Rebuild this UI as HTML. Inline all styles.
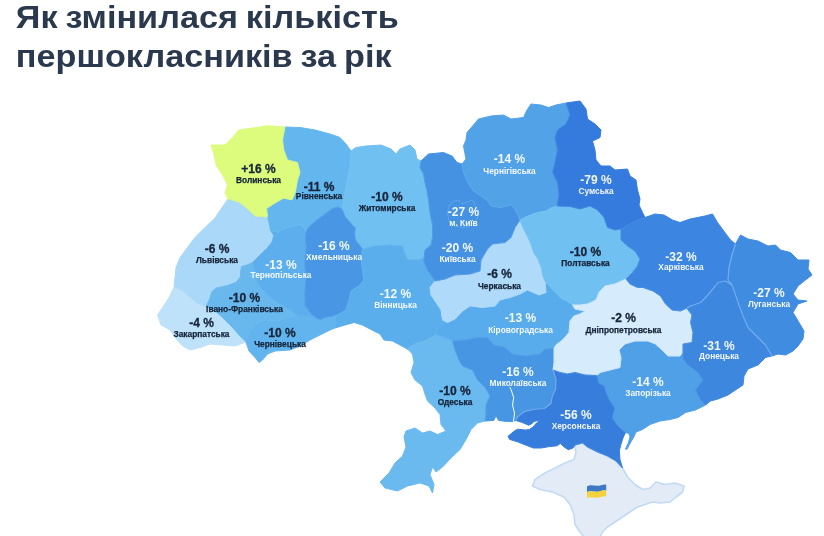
<!DOCTYPE html>
<html lang="uk"><head><meta charset="utf-8"><title>Як змінилася кількість першокласників за рік</title>
<style>
html,body{margin:0;padding:0;background:#fff;}
body{width:824px;height:536px;overflow:hidden;position:relative;font-family:"Liberation Sans",sans-serif;}
svg{position:absolute;left:0;top:0;overflow:visible;filter:blur(0.65px);}
.pct{font-weight:700;font-size:12px;stroke-width:0.3px;}
.nm{font-weight:700;font-size:8.35px;stroke-width:0.25px;}
.ttl{font-weight:700;font-size:32px;fill:#2b394f;word-spacing:-1.5px;}
.d{fill:#17253a;stroke:#17253a}
.w{fill:#fff;stroke:none;fill-opacity:0.93}
</style></head><body>
<svg width="824" height="536" viewBox="0 0 824 536" font-family="Liberation Sans, sans-serif" text-anchor="middle">
<g stroke-linejoin="round" stroke-width="1">
<polygon id="crimea" fill="#E3ECF6" stroke="#C1DAF4" stroke-width="1.6" points="622.5,468 627.5,477 635,484.5 642.5,489.5 650,488 656,482 665,484.5 675,483 684,486 682.5,492 676,497 670,502 660,503 652.5,502 645,504.5 637.5,507 630,512 622.5,517 615,522 607.5,527 602.5,532 598,541 587,541 580,532 575,524.5 574,514.5 570,504.5 564,497 552.5,492 540,489.5 532.5,486 535,479.5 545,473 555,468 565,463 574,459.5 576,453 575,445 582.5,443 587.5,447 597.5,452 607.5,456 616,461"/>
<polygon id="lviv" fill="#AAD8F8" stroke="#AAD8F8" points="174,287.5 175,277.5 176,267.5 180,257.5 187.5,247.5 195,237.5 205,227.5 215,218 221,209 228,199 232,200 240,202.5 248.8,210 255,216 267.5,217 269.8,226 270.5,230.5 273.8,235.5 272.2,241.8 267.4,248 261,254 256,259 252.5,262.5 247,265 241.5,266.5 240.5,272 240.4,277 236,282.3 227.3,285.5 216.4,288 212,291.5 209.8,298.7 206,306.5 197.5,304 190,297.5 182.5,291"/>
<polygon id="zak" fill="#BEE2FA" stroke="#BEE2FA" points="246,342 235,346 222.5,345 210,344 200,347.5 190,350 182.5,346 175,337.5 170,330 161,325 157.5,315 162.5,307.5 169,297.5 174,287.5 182.5,291 190,297.5 197.5,304 206,306.5 212.5,309 220,315 225,320 232.5,327.5 239,335"/>
<polygon id="if" fill="#68B8EE" stroke="#68B8EE" points="206,306.5 209.8,298.7 212,291.5 216.4,288 227.3,285.5 236,282.3 240.4,277 240.5,272 241.5,266.5 247,265 252.5,262.5 254.6,271.4 256.8,282.3 261,287.8 267.7,295.4 276.4,302 290,309.6 297.5,316 285,319 275,321 262.5,320 255,325 249,332.5 246,342 239,335 232.5,327.5 225,320 220,315 212.5,309"/>
<polygon id="cherniv" fill="#62B4EE" stroke="#62B4EE" points="335,328 330,330 320,335 310,340 300,346 290,350 275,351 267.5,354 262.5,360 259,362.5 255,357.5 249,351 246,342 249,332.5 255,325 262.5,320 275,321 285,319 297.5,316 305,316 312,317.5 317,318.5 321,319.5 325,317.5 335,315.5 336,322"/>
<polygon id="tern" fill="#5CAEEC" stroke="#5CAEEC" points="252.5,262.5 256,259 261,254 267.4,248 272.2,241.8 273.8,235.5 270.5,230.5 278.5,232.3 283.3,229 292.8,226 300.7,224.4 303.9,227.5 306,232 305.5,240 306.3,248 305,259 305,265 306,277.5 305,292.5 305,305 310,312.5 317,318.5 312,317.5 305,316 297.5,316 290,309.6 276.4,302 267.7,295.4 261,287.8 256.8,282.3 254.6,271.4"/>
<polygon id="rivne" fill="#63B6EE" stroke="#63B6EE" points="285,127 300,127.5 315,130 330,134 340,137.5 346,144 351,151 350,167 346,186 344,200 342,209 338,207 332.4,208.5 326,213.3 319.7,218 313.4,222.8 308.6,227.5 306,232 303.9,227.5 300.7,224.4 292.8,226 283.3,229 278.5,232.3 270.5,230.5 269.8,226 267.5,217 266.6,208.5 273.8,203.8 283.3,198.2 292,199.8 295.2,192.7 297.5,180 300,172.5 297.5,162.5 287.5,160 283.8,150 282.5,140"/>
<polygon id="volyn" fill="#DDFB7C" stroke="#DDFB7C" points="228,199 225,192.5 227.5,185 222.5,175 216,165 213.8,153.8 211,145 225,145 232.5,137.5 238.8,130 253,128 267.5,125.8 285,127 282.5,140 283.8,150 287.5,160 297.5,162.5 300,172.5 297.5,180 295.2,192.7 292,199.8 283.3,198.2 273.8,203.8 266.6,208.5 267.5,217 255,216 248.8,210 240,202.5 232,200"/>
<polygon id="zhyt" fill="#71C0F2" stroke="#71C0F2" points="351,151 356,147.5 366,146 381,145 391,149 396,154 400,149 410,145 415,150 417,159 421,161 420,167.5 423.5,174 425,182.5 427,191 428.5,200 430,212.5 432.5,225 432.5,237.5 431,245 425,250 424,258 417.5,260 407.5,260 405,254 402.5,246 390,245 375,246 362.5,249 359.4,245 355.4,240 354.6,234 355.4,227.5 353,226 349,221 345,216.5 342,209 344,200 346,186 350,167"/>
<polygon id="khm" fill="#4896E4" stroke="#4896E4" points="306,232 308.6,227.5 313.4,222.8 319.7,218 326,213.3 332.4,208.5 338,207 342,209 345,216.5 349,221 353,226 355.4,227.5 354.6,234 355.4,240 359.4,245 362.5,249 361,260 362.5,270 364,280 359,286 351,291 349,300 346,310 337.5,315 335,315.5 325,317.5 321,319.5 317,318.5 310,312.5 305,305 305,292.5 306,277.5 305,265 305,259 306.3,248 305.5,240"/>
<polygon id="vinn" fill="#5AAEEC" stroke="#5AAEEC" points="407.5,349 400,345 392.5,341 384,340 380,334 370,329 362.5,325 354,322.5 345,325 335,328 336,322 335,315.5 337.5,315 346,310 349,300 351,291 359,286 364,280 362.5,270 361,260 362.5,249 375,246 390,245 402.5,246 405,254 407.5,260 417.5,260 424,258 424,262 427.5,270 431,275 435,281 430,287.5 431,295 436,302.5 441,310 442.5,320 447.5,322.5 440,325 437.5,329 436,334.5 432.5,337.5 425,341 415,344"/>
<polygon id="odesa" fill="#6ABAEF" stroke="#6ABAEF" points="485,421 477.5,423 471,429.5 466,439.5 460,449.5 451,458 442.5,467 436,472 432.5,467 430,474.5 434,484.5 432.5,493 429,486 420,483 407.5,486 397.5,491 385,488 380,482 382.5,479.5 389,473 395,463 402.5,456 406,447 404,437 406,431 415,428 422.5,433 430,431 437.5,434.5 446,431 441,424.5 440,414.5 435,408 427.5,401 425,394 422.5,386 415,380 411,372.5 414,362.5 412.5,354 407.5,349 415,344 425,341 432.5,337.5 436,334.5 445,337.5 452.5,341 455,350 459,360 462.5,366 472.5,370 477.5,380 485,387.5 490,396 486,405 486,414"/>
<polygon id="kir" fill="#58ACEC" stroke="#58ACEC" points="447.5,322.5 455,319 462.5,311 470,306 482.5,307.5 495,306 500,300 510,297.5 520,294 527.5,290 539,295 546,292.5 545,281 553.5,290.5 562.3,299 567,301 572.5,305 575,309 585,311 580,314 574,316 570,321 569,332.5 562.5,340 556,345 554,348 545,349 540,354 525,356 512.5,354 505,347.5 494,345 487.5,337.5 477.5,337.5 465,340 452.5,341 445,337.5 436,334.5 437.5,329 440,325"/>
<polygon id="cherk" fill="#B0DAF9" stroke="#B0DAF9" points="435,281 445,279 455,275 470,274 480,271 481,260 487.5,249 492.5,244 505,242.5 511,237.5 515,227.5 520,220 523,227.5 527.3,236 530.5,243 534,253 538,259 541.5,268 542.6,275 545,281 546,292.5 539,295 527.5,290 520,294 510,297.5 500,300 495,306 482.5,307.5 470,306 462.5,311 455,319 447.5,322.5 442.5,320 441,310 436,302.5 431,295 430,287.5"/>
<polygon id="kyiv" fill="#4592E2" stroke="#4592E2" points="421,161 428.5,154 443.5,152.5 452,156 457,162.5 462,164 463.5,172.5 468.5,184 473.5,191 481,196 487,200 491,206 501,207.5 512,205 516,211 520,220 515,227.5 511,237.5 505,242.5 492.5,244 487.5,249 481,260 480,271 470,274 455,275 445,279 435,281 431,275 427.5,270 424,262 424,258 425,250 431,245 432.5,237.5 432.5,225 430,212.5 428.5,200 427,191 425,182.5 423.5,174 420,167.5"/>
<polygon id="chern" fill="#52A2E8" stroke="#52A2E8" points="462,164 466,159 463.5,146 466,140 467,132.5 473.5,125 478.5,119 491,116 503.5,115 511,119 523.5,117.5 527,110 531,104 541,105 548.5,107.5 556,105 566,103 570,115 566,124 557.5,130 555,137.5 557.5,150 555,162.5 552.5,172.5 557.5,182.5 559,195 557,206 551,208 546,211 536,213 528,216 520,220 516,211 512,205 501,207.5 491,206 487,200 481,196 473.5,191 468.5,184 463.5,172.5"/>
<polygon id="polt" fill="#70C0F2" stroke="#70C0F2" points="520,220 528,216 536,213 546,211 551,208 557,206 570,206.5 580,209 590,206 597.5,210 604,217.5 607.5,227.5 615,230 621,229 621,240 627.5,246 635,251 640,259 637.5,266 632.5,272.5 626,279 615,284 605,286 599,292.5 596,300 587.5,304 580,305 572.5,305 567,301 562.3,299 553.5,290.5 545,281 542.6,275 541.5,268 538,259 534,253 530.5,243 527.3,236 523,227.5"/>
<polygon id="myk" fill="#4696E4" stroke="#4696E4" points="516,420.5 512.8,421.5 505,421.3 498.5,420.4 496,415.7 493.8,420.4 485,421 486,414 486,405 490,396 485,387.5 477.5,380 472.5,370 462.5,366 459,360 455,350 452.5,341 465,340 477.5,337.5 487.5,337.5 494,345 505,347.5 512.5,354 525,356 540,354 545,349 554,348 554,352.5 554,362.5 553,370 556,380 555.6,389.5 552.4,395.8 550.8,403.8 544.5,408.5 533.4,409.3 524,411.7 517.5,417"/>
<polygon id="zap" fill="#50A0E8" stroke="#50A0E8" points="705.5,405 695.5,410 685.5,412.5 678,417.5 670,419.5 660,421 650,424.5 642.5,429.5 636,432 633.8,437 630.3,443 626.8,449.5 625.5,449 628.3,443 630,437 629,433.5 625.5,432.5 621.5,429.5 617.3,425.3 612.2,418 614.4,408 608.6,399 605.7,392 604.2,386 598.4,383 597,375.5 600,372.5 610,370 620,367.5 621,357.5 619,350 625,344 635,341 648,341 655.5,344 662,350 668,356 680,356 683,352 683,359 688,365 698,372.5 703,380 695.5,390 700.5,400"/>
<polygon id="dnipro" fill="#D6EBFC" stroke="#D6EBFC" points="572.5,305 580,305 587.5,304 596,300 599,292.5 605,286 615,284 626,279 630,284 637.5,287.5 643,287.5 653,291 660.5,296 665.5,304 672,310 680.5,311 687,308 688,310 692,315 690.5,322.5 693,332.5 692,342.5 683,344 683,352 680,356 668,356 662,350 655.5,344 648,341 635,341 625,344 619,350 621,357.5 620,367.5 610,370 600,372.5 597,375.5 585,375 575,372.5 567.5,374 560,372.5 553,370 554,362.5 554,352.5 554,348 556,345 562.5,340 569,332.5 570,321 574,316 580,314 585,311 575,309"/>
<polygon id="khark" fill="#3C85E0" stroke="#3C85E0" points="645,217.5 655,214 664,215 672.5,220 680,222.5 690,219 705,216 712.5,214 717.5,222.5 723,230 730.5,240 735.5,244 732,255 729,267.5 728,280 732,285 725.5,281 718,282.5 712,290 707,296 700.5,302.5 690.5,306 687,308 680.5,311 672,310 665.5,304 660.5,296 653,291 643,287.5 637.5,287.5 630,284 626,279 632.5,272.5 637.5,266 640,259 635,251 627.5,246 621,240 621,229 628,225 635,221"/>
<polygon id="luh" fill="#408CE0" stroke="#408CE0" points="735.5,244 740.5,235 748,239 758,241 768,246 775.5,245 780.5,250 790.5,252.5 798,260 809,260 808,269 812,275 805.5,280 798,286 793,294 798,300 807,301 798,304 793,312.5 799,322.5 804,331 803,339 798,346 793,351 785.5,355 778,354 772,356 765.5,345 758,337.5 748,327.5 743,316 739,305 735.5,295 732,285 728,280 729,267.5 732,255"/>
<polygon id="don" fill="#3E87DE" stroke="#3E87DE" points="772,356 765.5,357.5 758,365 748,369 744,376 743,385 735.5,390 728,395 718,399 710.5,401 705.5,405 700.5,400 695.5,390 703,380 698,372.5 688,365 683,359 683,352 683,344 692,342.5 693,332.5 690.5,322.5 692,315 688,310 687,308 690.5,306 700.5,302.5 707,296 712,290 718,282.5 725.5,281 732,285 735.5,295 739,305 743,316 748,327.5 758,337.5 765.5,345"/>
<polygon id="sumy" fill="#357BDD" stroke="#357BDD" points="566,103 580,101 586,109 587.5,119 595,124 601,130 600,137.5 592.5,141 595,150 596,160 601,166 610,166 615,170 627.5,169 630,176 636,180 637.5,190 640,199 639,205 642.5,212.5 645,217.5 635,221 628,225 621,229 615,230 607.5,227.5 604,217.5 597.5,210 590,206 580,209 570,206.5 557,206 559,195 557.5,182.5 552.5,172.5 555,162.5 557.5,150 555,137.5 557.5,130 566,124 570,115"/>
<polygon id="kher" fill="#377EDC" stroke="#377EDC" points="625.5,432.5 623,438 621,444 619.3,451 620,459.5 622.5,468 616,461 607.5,456 597.5,452 587.5,447 582.5,443 575,445 573,448 568.3,449.7 563.5,446.6 560.3,443.4 557.2,445.8 549.2,446.6 541.3,448 533.4,448 525.5,445 517.5,441.8 509.6,439.4 508,436.3 514.4,431 517.5,429.2 525.5,430 529.4,429.5 533,427 536.5,423 539.7,420 534,421.5 531.5,424 528.6,425.2 522.3,422.5 516,420.5 517.5,417 524,411.7 533.4,409.3 544.5,408.5 550.8,403.8 552.4,395.8 555.6,389.5 556,380 553,370 560,372.5 567.5,374 575,372.5 585,375 597,375.5 598.4,383 604.2,386 605.7,392 608.6,399 614.4,408 612.2,418 617.3,425.3 621.5,429.5"/>
</g>
<g fill="none" stroke="#8FC8F6" stroke-linejoin="round">
<polyline stroke-width="0.8" opacity="0.22" points="285,127 282.5,140 283.8,150 287.5,160 297.5,162.5 300,172.5 297.5,180 295.2,192.7 292,199.8 283.3,198.2 273.8,203.8 266.6,208.5 267.5,217"/>
<polyline stroke-width="0.8" opacity="0.22" points="267.5,217 255,216 248.8,210 240,202.5 232,200 228,199"/>
<polyline stroke-width="0.8" opacity="0.22" points="267.5,217 269.8,226 270.5,230.5"/>
<polyline stroke-width="0.8" opacity="0.22" points="270.5,230.5 273.8,235.5 272.2,241.8 267.4,248 261,254 256,259 252.5,262.5"/>
<polyline stroke-width="0.8" opacity="0.22" points="252.5,262.5 247,265 241.5,266.5 240.5,272 240.4,277 236,282.3 227.3,285.5 216.4,288 212,291.5 209.8,298.7 206,306.5"/>
<polyline stroke-width="0.8" opacity="0.22" points="206,306.5 197.5,304 190,297.5 182.5,291 174,287.5"/>
<polyline stroke-width="0.8" opacity="0.22" points="206,306.5 212.5,309 220,315 225,320 232.5,327.5 239,335 246,342"/>
<polyline stroke-width="0.8" opacity="0.22" points="252.5,262.5 254.6,271.4 256.8,282.3 261,287.8 267.7,295.4 276.4,302 290,309.6 297.5,316"/>
<polyline stroke-width="0.8" opacity="0.22" points="297.5,316 285,319 275,321 262.5,320 255,325 249,332.5 246,342"/>
<polyline stroke-width="0.8" opacity="0.22" points="297.5,316 305,316 312,317.5 317,318.5"/>
<polyline stroke-width="0.8" opacity="0.22" points="317,318.5 321,319.5 325,317.5 335,315.5"/>
<polyline stroke-width="0.8" opacity="0.22" points="335,315.5 336,322 335,328"/>
<polyline stroke-width="0.8" opacity="0.22" points="270.5,230.5 278.5,232.3 283.3,229 292.8,226 300.7,224.4 303.9,227.5 306,232"/>
<polyline stroke-width="0.8" opacity="0.22" points="306,232 305.5,240 306.3,248 305,259 305,265 306,277.5 305,292.5 305,305 310,312.5 317,318.5"/>
<polyline stroke-width="0.8" opacity="0.22" points="306,232 308.6,227.5 313.4,222.8 319.7,218 326,213.3 332.4,208.5 338,207 342,209"/>
<polyline stroke-width="0.8" opacity="0.22" points="351,151 350,167 346,186 344,200 342,209"/>
<polyline stroke-width="0.8" opacity="0.22" points="342,209 345,216.5 349,221 353,226 355.4,227.5 354.6,234 355.4,240 359.4,245 362.5,249"/>
<polyline stroke-width="0.8" opacity="0.22" points="362.5,249 361,260 362.5,270 364,280 359,286 351,291 349,300 346,310 337.5,315 335,315.5"/>
<polyline stroke-width="0.8" opacity="0.22" points="362.5,249 375,246 390,245 402.5,246 405,254 407.5,260 417.5,260 424,258"/>
<polyline stroke-width="0.8" opacity="0.22" points="421,161 420,167.5 423.5,174 425,182.5 427,191 428.5,200 430,212.5 432.5,225 432.5,237.5 431,245 425,250 424,258"/>
<polyline stroke-width="0.8" opacity="0.22" points="424,258 424,262 427.5,270 431,275 435,281"/>
<polyline stroke-width="0.8" opacity="0.22" points="435,281 430,287.5 431,295 436,302.5 441,310 442.5,320 447.5,322.5"/>
<polyline stroke-width="0.8" opacity="0.22" points="447.5,322.5 440,325 437.5,329 436,334.5"/>
<polyline stroke-width="0.8" opacity="0.22" points="436,334.5 432.5,337.5 425,341 415,344 407.5,349"/>
<polyline stroke-width="0.8" opacity="0.22" points="436,334.5 445,337.5 452.5,341"/>
<polyline stroke-width="0.8" opacity="0.22" points="452.5,341 455,350 459,360 462.5,366 472.5,370 477.5,380 485,387.5 490,396 486,405 486,414 485,421"/>
<polyline stroke-width="0.8" opacity="0.22" points="435,281 445,279 455,275 470,274 480,271 481,260 487.5,249 492.5,244 505,242.5 511,237.5 515,227.5 520,220"/>
<polyline stroke-width="0.8" opacity="0.22" points="462,164 463.5,172.5 468.5,184 473.5,191 481,196 487,200 491,206 501,207.5 512,205 516,211 520,220"/>
<polyline stroke-width="0.8" opacity="0.22" points="520,220 528,216 536,213 546,211 551,208 557,206"/>
<polyline stroke-width="0.8" opacity="0.22" points="566,103 570,115 566,124 557.5,130 555,137.5 557.5,150 555,162.5 552.5,172.5 557.5,182.5 559,195 557,206"/>
<polyline stroke-width="0.8" opacity="0.22" points="557,206 570,206.5 580,209 590,206 597.5,210 604,217.5 607.5,227.5 615,230 621,229"/>
<polyline stroke-width="0.8" opacity="0.22" points="621,229 628,225 635,221 645,217.5"/>
<polyline stroke-width="0.8" opacity="0.22" points="621,229 621,240 627.5,246 635,251 640,259 637.5,266 632.5,272.5 626,279"/>
<polyline stroke-width="0.8" opacity="0.22" points="626,279 630,284 637.5,287.5 643,287.5 653,291 660.5,296 665.5,304 672,310 680.5,311 687,308"/>
<polyline stroke-width="0.8" opacity="0.22" points="626,279 615,284 605,286 599,292.5 596,300 587.5,304 580,305 572.5,305"/>
<polyline stroke-width="0.8" opacity="0.22" points="572.5,305 567,301 562.3,299 553.5,290.5 545,281"/>
<polyline stroke-width="0.8" opacity="0.22" points="545,281 542.6,275 541.5,268 538,259 534,253 530.5,243 527.3,236 523,227.5 520,220"/>
<polyline stroke-width="0.8" opacity="0.22" points="545,281 546,292.5 539,295 527.5,290 520,294 510,297.5 500,300 495,306 482.5,307.5 470,306 462.5,311 455,319 447.5,322.5"/>
<polyline stroke-width="0.8" opacity="0.22" points="572.5,305 575,309 585,311 580,314 574,316 570,321 569,332.5 562.5,340 556,345 554,348"/>
<polyline stroke-width="0.8" opacity="0.22" points="452.5,341 465,340 477.5,337.5 487.5,337.5 494,345 505,347.5 512.5,354 525,356 540,354 545,349 554,348"/>
<polyline stroke-width="0.8" opacity="0.22" points="554,348 554,352.5 554,362.5 553,370"/>
<polyline stroke-width="0.8" opacity="0.22" points="553,370 560,372.5 567.5,374 575,372.5 585,375 597,375.5"/>
<polyline stroke-width="0.8" opacity="0.22" points="597,375.5 600,372.5 610,370 620,367.5 621,357.5 619,350 625,344 635,341 648,341 655.5,344 662,350 668,356 680,356 683,352"/>
<polyline stroke-width="0.8" opacity="0.22" points="683,352 683,344 692,342.5 693,332.5 690.5,322.5 692,315 688,310 687,308"/>
<polyline stroke-width="1.2" opacity="0.6" points="553,370 556,380 555.6,389.5 552.4,395.8 550.8,403.8 544.5,408.5 533.4,409.3 524,411.7 517.5,417 516,420.5"/>
<polyline stroke-width="0.8" opacity="0.22" points="597,375.5 598.4,383 604.2,386 605.7,392 608.6,399 614.4,408 612.2,418 617.3,425.3 621.5,429.5 625.5,432.5"/>
<polyline stroke-width="0.8" opacity="0.22" points="683,352 683,359 688,365 698,372.5 703,380 695.5,390 700.5,400 705.5,405"/>
<polyline stroke-width="1.2" opacity="0.6" points="687,308 690.5,306 700.5,302.5 707,296 712,290 718,282.5 725.5,281 732,285"/>
<polyline stroke-width="1.2" opacity="0.6" points="735.5,244 732,255 729,267.5 728,280 732,285"/>
<polyline stroke-width="1.2" opacity="0.6" points="732,285 735.5,295 739,305 743,316 748,327.5 758,337.5 765.5,345 772,356"/>
<polyline stroke-width="0.8" opacity="0.22" points="575,445 582.5,443 587.5,447 597.5,452 607.5,456 616,461 622.5,468"/>
</g>
<g fill="none" stroke="#fff" stroke-linejoin="round" stroke-linecap="round">
<polyline stroke-width="1" points="513.5,421.5 514.5,413 512.5,405 513.7,397.5 511,389.5 510,387.5"/>
<polygon stroke-width="0.9" stroke="#9CCBF5" opacity="0.35" points="447.5,212 449.6,205 454,201 458.3,200.2 462.7,203.8 467,202.4 471.4,200.2 474.3,202.4 476,207 478.5,212 477.5,218 474,222 470,226 463,227.5 455,226 449.5,221.5"/>
</g>
<g><path d="M587,486.2 C591,484 596,487 601,485.2 C603,484.6 605,484.4 606.2,484.6 L606.2,490.4 C604,490.2 602,490.6 600,491.2 C595,492.8 591,490 587,492 Z" fill="#3F79C4"/><path d="M587,492 C591,490 595,492.8 600,491.2 C602,490.6 604,490.2 606.2,490.4 L606.2,496.4 C604,496.2 602,496.6 600,497.2 C595,498.8 591,496 587,498 Z" fill="#F5D23C"/></g>
<g transform="scale(1.07,1)"><text class="ttl" text-anchor="start" x="14.8" y="28.4">Як змінилася кількість</text><text class="ttl" text-anchor="start" x="14.8" y="67.2">першокласників за рік</text></g>
<text class="pct d" x="258.5" y="173">+16 %</text><text class="nm d" x="258.5" y="183">Волинська</text>
<text class="pct d" x="319" y="190.7">-11 %</text><text class="nm d" x="319" y="199.45">Рівненська</text>
<text class="pct d" x="387" y="200.7">-10 %</text><text class="nm d" x="387" y="210.7">Житомирська</text>
<text class="pct w" x="509.5" y="163.2">-14 %</text><text class="nm w" x="509.5" y="173.7">Чернігівська</text>
<text class="pct w" x="596" y="184.45">-79 %</text><text class="nm w" x="596" y="194.45">Сумська</text>
<text class="pct w" x="463.5" y="216.2">-27 %</text><text class="nm w" x="463.5" y="225.7">м. Київ</text>
<text class="pct w" x="457.5" y="251.7">-20 %</text><text class="nm w" x="457.5" y="261.7">Київська</text>
<text class="pct d" x="217" y="252.8">-6 %</text><text class="nm d" x="217" y="262.7">Львівська</text>
<text class="pct w" x="281" y="269">-13 %</text><text class="nm w" x="281" y="278">Тернопільська</text>
<text class="pct w" x="334" y="249.7">-16 %</text><text class="nm w" x="334" y="259.7">Хмельницька</text>
<text class="pct d" x="244.5" y="302.3">-10 %</text><text class="nm d" x="244.5" y="311.8">Івано-Франківська</text>
<text class="pct d" x="201.5" y="327">-4 %</text><text class="nm d" x="201.5" y="336.5">Закарпатська</text>
<text class="pct d" x="280" y="337">-10 %</text><text class="nm d" x="280" y="347">Чернівецька</text>
<text class="pct w" x="395.5" y="298.2">-12 %</text><text class="nm w" x="395.5" y="307.7">Вінницька</text>
<text class="pct d" x="499.5" y="278.2">-6 %</text><text class="nm d" x="499.5" y="288.7">Черкаська</text>
<text class="pct d" x="585.5" y="256.2">-10 %</text><text class="nm d" x="585.5" y="265.7">Полтавська</text>
<text class="pct w" x="681" y="260.7">-32 %</text><text class="nm w" x="681" y="270.2">Харківська</text>
<text class="pct w" x="769" y="297.45">-27 %</text><text class="nm w" x="769" y="306.7">Луганська</text>
<text class="pct w" x="719" y="349.7">-31 %</text><text class="nm w" x="719" y="359.45">Донецька</text>
<text class="pct d" x="623.5" y="321.7">-2 %</text><text class="nm d" x="623.5" y="332.7">Дніпропетровська</text>
<text class="pct w" x="648" y="385.7">-14 %</text><text class="nm w" x="648" y="395.7">Запорізька</text>
<text class="pct w" x="576" y="419.1">-56 %</text><text class="nm w" x="576" y="428.5">Херсонська</text>
<text class="pct w" x="518" y="376.2">-16 %</text><text class="nm w" x="518" y="385.7">Миколаївська</text>
<text class="pct d" x="455" y="395.2">-10 %</text><text class="nm d" x="455" y="405.2">Одеська</text>
<text class="pct w" x="520.5" y="321.7">-13 %</text><text class="nm w" x="520.5" y="332.7">Кіровоградська</text>
</svg></body></html>
